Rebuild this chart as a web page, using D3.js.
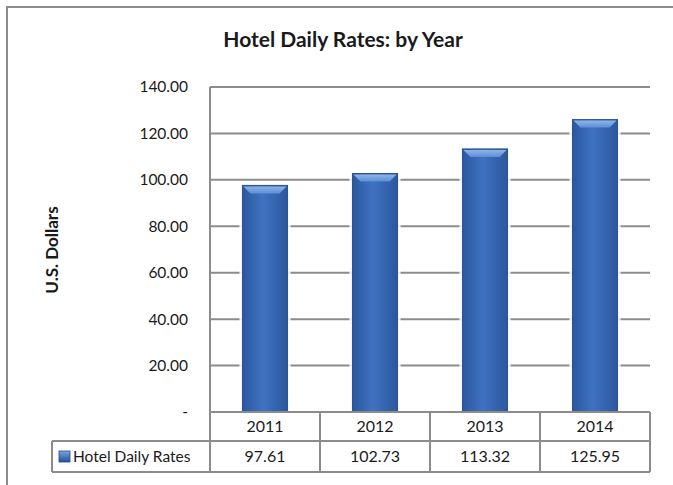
<!DOCTYPE html>
<html>
<head>
<meta charset="utf-8">
<script src="https://cdn.jsdelivr.net/npm/d3@7"></script>
<style>
  body { margin: 0; background: #fff; }
  text { font-family: Lato, "Open Sans", sans-serif; fill: #1a1a1a; }
</style>
</head>
<body>
<svg id="chart"></svg>
<script>
// Data
const years = ["2011", "2012", "2013", "2014"];
const rates = [97.61, 102.73, 113.32, 125.95];
const yTicks = [0, 20, 40, 60, 80, 100, 120, 140];
const seriesName = "Hotel Daily Rates";

const width = 673, height = 485;
const margin = {top: 87, left: 210, right: 23, bottom: 73};

const svg = d3.select("#chart")
    .attr("width", width)
    .attr("height", height);

// gradients for the bars
const defs = svg.append("defs");
const grad = defs.append("linearGradient").attr("id", "barGrad")
    .attr("x1", "0%").attr("x2", "100%").attr("y1", "0%").attr("y2", "0%");
grad.append("stop").attr("offset", "0%").attr("stop-color", "#2b579e");
grad.append("stop").attr("offset", "45%").attr("stop-color", "#3f72c2");
grad.append("stop").attr("offset", "100%").attr("stop-color", "#2b579e");
const topGrad = defs.append("linearGradient").attr("id", "topGrad")
    .attr("x1", "0%").attr("x2", "0%").attr("y1", "0%").attr("y2", "100%");
topGrad.append("stop").attr("offset", "0%").attr("stop-color", "#8fb4e6");
topGrad.append("stop").attr("offset", "100%").attr("stop-color", "#5b8fd6");
const icoGrad = defs.append("linearGradient").attr("id", "icoGrad")
    .attr("x1", "0%").attr("x2", "0%").attr("y1", "0%").attr("y2", "100%");
icoGrad.append("stop").attr("offset", "0%").attr("stop-color", "#7aa6e0");
icoGrad.append("stop").attr("offset", "100%").attr("stop-color", "#24509a");

// outer frame (top and left edges only are visible)
svg.append("path")
    .attr("d", `M7,${height} V7 H${width}`)
    .attr("fill", "none")
    .attr("stroke", "#8c8c8c")
    .attr("stroke-width", 2);

// title
svg.append("text")
    .attr("x", 343)
    .attr("y", 47)
    .attr("text-anchor", "middle")
    .style("font-size", "21px")
    .style("font-weight", "bold")
    .text("Hotel Daily Rates: by Year");

// scales
const xScale = d3.scaleBand()
    .domain(years)
    .range([margin.left, width - margin.right])
    .paddingInner(0.59)
    .paddingOuter(0.295);

const colScale = d3.scaleBand()
    .domain(years)
    .range([margin.left, width - margin.right]);

const yScale = d3.scaleLinear()
    .domain([0, 140])
    .range([height - margin.bottom, margin.top]);

// gridlines
svg.append("g")
    .selectAll("line")
    .data(yTicks.filter(d => d > 0))
    .enter().append("line")
    .attr("x1", margin.left)
    .attr("x2", width - margin.right)
    .attr("y1", d => yScale(d))
    .attr("y2", d => yScale(d))
    .attr("stroke", "#8c8c8c")
    .attr("stroke-width", 2);

// y axis labels
const yAxis = svg.append("g")
    .attr("transform", `translate(${margin.left},0)`)
    .call(d3.axisLeft(yScale)
        .tickValues(yTicks)
        .tickSize(0)
        .tickPadding(22)
        .tickFormat(d => d === 0 ? "-" : d.toFixed(2)));
yAxis.select(".domain").remove();
yAxis.selectAll("text")
    .style("font-size", "15.5px")
    .style("font-family", "Lato, 'Open Sans', sans-serif")
    .attr("fill", "#1a1a1a");

// left axis line
svg.append("line")
    .attr("x1", margin.left).attr("x2", margin.left)
    .attr("y1", margin.top).attr("y2", height - margin.bottom)
    .attr("stroke", "#8c8c8c").attr("stroke-width", 2);

// y axis title
svg.append("text")
    .attr("transform", `translate(58,250) rotate(-90)`)
    .attr("text-anchor", "middle")
    .style("font-size", "17px")
    .style("font-weight", "bold")
    .text("U.S. Dollars");

// bars
const bars = svg.selectAll(".bar")
    .data(rates)
    .enter().append("g")
    .attr("class", "bar");

bars.append("rect")
    .attr("x", (d, i) => xScale(years[i]) - 3)
    .attr("y", d => yScale(d) - 1)
    .attr("width", xScale.bandwidth() + 6)
    .attr("height", d => yScale(0) - yScale(d) + 1)
    .attr("fill", "#ffffff")
    .attr("opacity", 0.85);

bars.append("rect")
    .attr("x", (d, i) => xScale(years[i]))
    .attr("y", d => yScale(d))
    .attr("width", xScale.bandwidth())
    .attr("height", d => yScale(0) - yScale(d))
    .attr("fill", "url(#barGrad)")
    .attr("stroke", "#2a4f8e")
    .attr("stroke-width", 1);

bars.append("path")
    .attr("d", (d, i) => {
        const x0 = xScale(years[i]) + 1, x1 = x0 + xScale.bandwidth() - 2;
        const y0 = yScale(d) + 1;
        return `M${x0},${y0} H${x1} L${x1 - 7},${y0 + 7} H${x0 + 7} Z`;
    })
    .attr("fill", "url(#topGrad)");

// data table
const tableTop = yScale(0);
const rowH1 = 29, rowH2 = 31;
const tableLeft = 52;
const table = svg.append("g");
const lineColor = "#8c8c8c";

// horizontal lines
table.append("line")
    .attr("x1", margin.left).attr("x2", width - margin.right)
    .attr("y1", tableTop).attr("y2", tableTop)
    .attr("stroke", lineColor).attr("stroke-width", 2);
table.append("line")
    .attr("x1", tableLeft).attr("x2", width - margin.right)
    .attr("y1", tableTop + rowH1).attr("y2", tableTop + rowH1)
    .attr("stroke", lineColor).attr("stroke-width", 2);
table.append("line")
    .attr("x1", tableLeft).attr("x2", width - margin.right)
    .attr("y1", tableTop + rowH1 + rowH2).attr("y2", tableTop + rowH1 + rowH2)
    .attr("stroke", lineColor).attr("stroke-width", 2);

// vertical lines
table.append("line")
    .attr("x1", tableLeft).attr("x2", tableLeft)
    .attr("y1", tableTop + rowH1).attr("y2", tableTop + rowH1 + rowH2)
    .attr("stroke", lineColor).attr("stroke-width", 2);
table.selectAll(".vcol")
    .data(years.concat(["end"]))
    .enter().append("line")
    .attr("class", "vcol")
    .attr("x1", (d, i) => i < years.length ? colScale(d) : width - margin.right)
    .attr("x2", (d, i) => i < years.length ? colScale(d) : width - margin.right)
    .attr("y1", tableTop)
    .attr("y2", tableTop + rowH1 + rowH2)
    .attr("stroke", lineColor).attr("stroke-width", 2);

// year labels
table.selectAll(".yr")
    .data(years)
    .enter().append("text")
    .attr("class", "yr")
    .attr("x", d => colScale(d) + colScale.bandwidth() / 2)
    .attr("y", tableTop + rowH1 / 2)
    .attr("dy", "0.36em")
    .attr("text-anchor", "middle")
    .style("font-size", "16px")
    .text(d => d);

// values
table.selectAll(".val")
    .data(rates)
    .enter().append("text")
    .attr("class", "val")
    .attr("x", (d, i) => colScale(years[i]) + colScale.bandwidth() / 2)
    .attr("y", tableTop + rowH1 + rowH2 / 2)
    .attr("dy", "0.36em")
    .attr("text-anchor", "middle")
    .style("font-size", "16px")
    .text(d => d.toFixed(2));

// legend key
table.append("rect")
    .attr("x", 59).attr("y", tableTop + rowH1 + rowH2 / 2 - 5.5)
    .attr("width", 11).attr("height", 11)
    .attr("fill", "url(#icoGrad)")
    .attr("stroke", "#24478a").attr("stroke-width", 0.8);
table.append("text")
    .attr("x", 73)
    .attr("y", tableTop + rowH1 + rowH2 / 2)
    .attr("dy", "0.36em")
    .style("font-size", "15.5px")
    .text(seriesName);
</script>
</body>
</html>
